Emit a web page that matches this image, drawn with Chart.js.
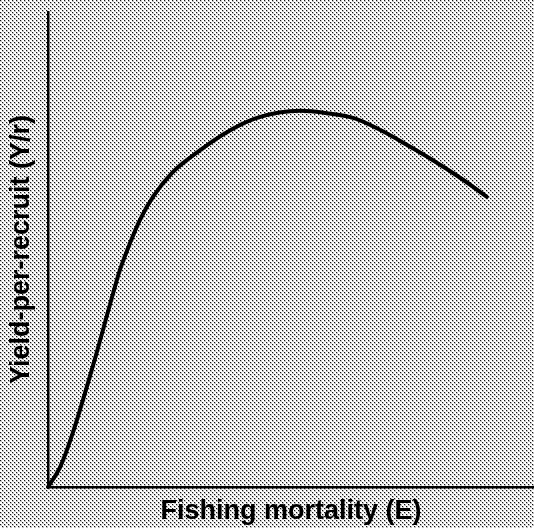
<!DOCTYPE html>
<html>
<head>
<meta charset="utf-8">
<script src="https://cdn.jsdelivr.net/npm/chart.js@4"></script>
<style>
  html, body { margin: 0; padding: 0; background: #fff; }
  #wrap { width: 534px; height: 528px; position: relative; }
</style>
</head>
<body>
<div id="wrap"><canvas id="c"></canvas></div>
<script>
// Fishing mortality (E) values (axis scaled 0..1)
const fishingMortality = [0, 0.025, 0.051, 0.093, 0.134, 0.148, 0.169, 0.189, 0.216, 0.255, 0.313, 0.368, 0.430, 0.519, 0.574, 0.628, 0.683, 0.739, 0.792, 0.848, 0.903];
// Yield-per-recruit (Y/r) values at those points (axis scaled 0..1)
const yieldPerRecruit = [0, 0.042, 0.114, 0.257, 0.408, 0.457, 0.514, 0.562, 0.611, 0.661, 0.709, 0.747, 0.777, 0.792, 0.787, 0.777, 0.752, 0.720, 0.688, 0.651, 0.611];
const xTitle = 'Fishing mortality (E)';
const yTitle = 'Yield-per-recruit (Y/r)';

function makeHalftone() {
  const t = document.createElement('canvas');
  t.width = 4; t.height = 4;
  const g = t.getContext('2d');
  g.fillStyle = '#ffffff';
  g.fillRect(0, 0, 4, 4);
  g.fillStyle = '#c4c4c4';
  g.fillRect(0, 0, 2, 2);
  g.fillRect(2, 2, 2, 2);
  g.fillStyle = '#111111';
  g.fillRect(0, 0, 1, 1);
  g.fillRect(2, 2, 1, 1);
  return t;
}

const halftoneBg = {
  id: 'halftoneBg',
  beforeDraw(chart) {
    const ctx = chart.ctx;
    ctx.save();
    ctx.fillStyle = ctx.createPattern(makeHalftone(), 'repeat');
    ctx.fillRect(0, 0, chart.width, chart.height);
    ctx.restore();
  }
};

const points = fishingMortality.map((e, i) => ({ x: e, y: yieldPerRecruit[i] }));
const titleFont = { family: "'Liberation Sans', Arial, sans-serif", size: 27, weight: 'bold' };

new Chart(document.getElementById('c'), {
  type: 'line',
  data: {
    datasets: [{
      data: points,
      borderColor: '#000',
      borderWidth: 4,
      pointRadius: 0,
      fill: false,
      cubicInterpolationMode: 'monotone',
      borderCapStyle: 'round',
      borderJoinStyle: 'round',
      clip: false
    }]
  },
  options: {
    responsive: true,
    maintainAspectRatio: false,
    animation: false,
    layout: { padding: { top: 12, left: 5, right: 0, bottom: 0 } },
    plugins: { legend: { display: false }, tooltip: { enabled: false } },
    scales: {
      x: {
        type: 'linear', min: 0, max: 1,
        grid: { display: false, drawTicks: false },
        ticks: { display: false },
        border: { display: true, color: '#000', width: 2.5 },
        title: { display: true, text: xTitle, color: '#000', font: titleFont, padding: { top: 8.6, bottom: 0 } }
      },
      y: {
        type: 'linear', min: 0, max: 1,
        grid: { display: false, drawTicks: false },
        ticks: { display: false },
        border: { display: true, color: '#000', width: 2.5 },
        title: { display: true, text: yTitle, color: '#000', font: titleFont, padding: { top: 0, bottom: 10.6 } }
      }
    }
  },
  plugins: [halftoneBg]
});
</script>
</body>
</html>
